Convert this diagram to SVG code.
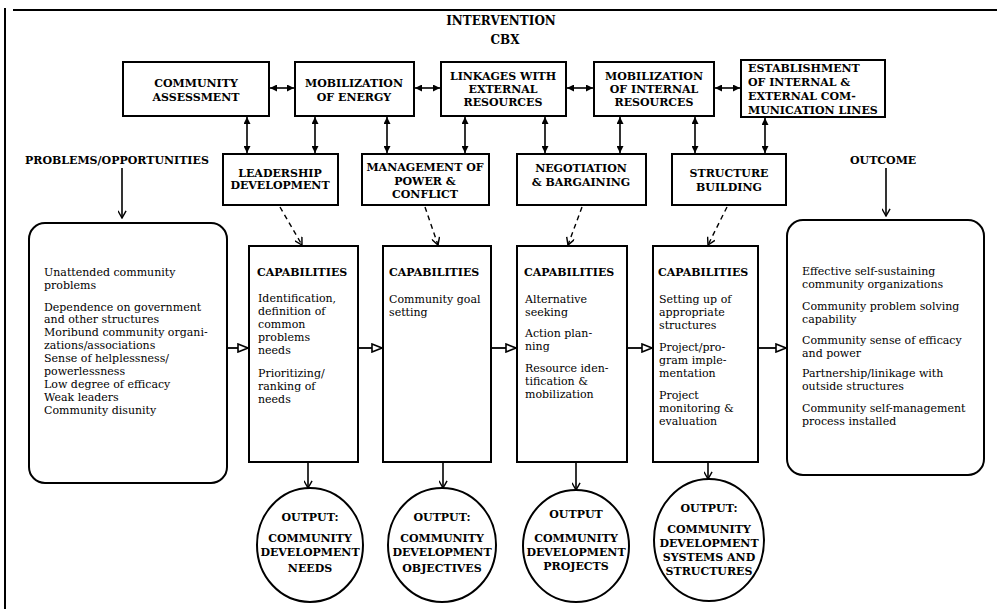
<svg xmlns="http://www.w3.org/2000/svg" width="997" height="609" viewBox="0 0 997 609">
<style>
.box{fill:#fff;stroke:#000;stroke-width:2}
.h{font-family:"DejaVu Serif","Liberation Serif",serif;font-weight:bold;font-size:11px;text-anchor:middle;fill:#000}
.hl{font-family:"DejaVu Serif","Liberation Serif",serif;font-weight:bold;font-size:11px;fill:#000}
.t{font-family:"DejaVu Serif","Liberation Serif",serif;font-size:11px;fill:#000}
.c{font-family:"DejaVu Serif","Liberation Serif",serif;font-weight:bold;font-size:11px;text-anchor:middle;fill:#000}
.dbl{fill:none;stroke:#000;stroke-width:1.6;marker-start:url(#fa);marker-end:url(#fa)}
.dn{fill:none;stroke:#000;stroke-width:1.6;marker-end:url(#vee)}
.ds{fill:none;stroke:#000;stroke-width:1.4;stroke-dasharray:5 4;marker-end:url(#vee)}
.hz{fill:none;stroke:#000;stroke-width:1.8;marker-end:url(#tri)}
</style>
<defs>
<marker id="fa" viewBox="0 0 8 8" refX="8" refY="4" markerWidth="7" markerHeight="7" markerUnits="userSpaceOnUse" orient="auto-start-reverse"><path d="M0,0 L8,4 L0,8 z" fill="#000"/></marker>
<marker id="vee" viewBox="0 0 10 10" refX="9" refY="5" markerWidth="9" markerHeight="9" markerUnits="userSpaceOnUse" orient="auto"><path d="M1,0.5 L9,5 L1,9.5" fill="none" stroke="#000" stroke-width="1.6"/></marker>
<marker id="tri" viewBox="0 0 12 10" refX="11" refY="5" markerWidth="12" markerHeight="10" markerUnits="userSpaceOnUse" orient="auto"><path d="M1,1 L11,5 L1,9 z" fill="#fff" stroke="#000" stroke-width="1.6"/></marker>
</defs>
<rect width="997" height="609" fill="#fff"/>
<g id="frame" fill="none" stroke="#000" stroke-width="2">
<line x1="13" y1="10" x2="997" y2="10"/>
<line x1="5" y1="8" x2="5" y2="609"/>
</g>
<g id="title">
<text class="h" x="501" y="25" style="font-size:12px">INTERVENTION</text>
<text class="h" x="505" y="44" style="font-size:12px">CBX</text>
</g>
<g id="community-assessment"><rect class="box" x="123" y="62" width="146" height="54"/><text class="h" x="196" y="87">COMMUNITY</text><text class="h" x="196" y="101">ASSESSMENT</text></g>
<g id="mobilization-energy"><rect class="box" x="295" y="62" width="119" height="54"/><text class="h" x="354" y="87">MOBILIZATION</text><text class="h" x="354" y="101">OF ENERGY</text></g>
<g id="linkages"><rect class="box" x="441" y="62" width="125" height="54"/><text class="h" x="503" y="80">LINKAGES WITH</text><text class="h" x="503" y="93">EXTERNAL</text><text class="h" x="503" y="106">RESOURCES</text></g>
<g id="mobilization-internal"><rect class="box" x="594" y="62" width="120" height="54"/><text class="h" x="654" y="80">MOBILIZATION</text><text class="h" x="654" y="93">OF INTERNAL</text><text class="h" x="654" y="106">RESOURCES</text></g>
<g id="establishment"><rect class="box" x="741" y="60" width="144" height="57"/><text class="hl" x="748" y="72">ESTABLISHMENT</text><text class="hl" x="748" y="86">OF INTERNAL &amp;</text><text class="hl" x="748" y="100">EXTERNAL COM-</text><text class="hl" x="748" y="114">MUNICATION LINES</text></g>
<g id="leadership"><rect class="box" x="223" y="154" width="115" height="51"/><text class="h" x="280" y="177">LEADERSHIP</text><text class="h" x="280" y="189">DEVELOPMENT</text></g>
<g id="management"><rect class="box" x="362" y="154" width="127" height="51"/><text class="h" x="425" y="171">MANAGEMENT OF</text><text class="h" x="425" y="185">POWER &amp;</text><text class="h" x="425" y="198">CONFLICT</text></g>
<g id="negotiation"><rect class="box" x="517" y="154" width="129" height="51"/><text class="h" x="581" y="172">NEGOTIATION</text><text class="h" x="581" y="186">&amp; BARGAINING</text></g>
<g id="structure"><rect class="box" x="672" y="154" width="114" height="51"/><text class="h" x="729" y="177">STRUCTURE</text><text class="h" x="729" y="191">BUILDING</text></g>
<g id="labels">
<text class="hl" x="25" y="164">PROBLEMS/OPPORTUNITIES</text>
<text class="hl" x="850" y="164">OUTCOME</text>
</g>
<g id="problems"><rect class="box" x="29" y="223" width="198" height="260" rx="16"/>
<text class="t" x="44" y="276">Unattended community</text><text class="t" x="44" y="289">problems</text>
<text class="t" x="44" y="311">Dependence on government</text><text class="t" x="44" y="323">and other structures</text>
<text class="t" x="44" y="336">Moribund community organi-</text><text class="t" x="44" y="349">zations/associations</text>
<text class="t" x="44" y="362">Sense of helplessness/</text><text class="t" x="44" y="375">powerlessness</text>
<text class="t" x="44" y="388">Low degree of efficacy</text><text class="t" x="44" y="401">Weak leaders</text>
<text class="t" x="44" y="414">Community disunity</text></g>
<g id="cap1"><rect class="box" x="249" y="246" width="109" height="216"/>
<text class="hl" x="257" y="276">CAPABILITIES</text>
<text class="t" x="258" y="302">Identification,</text><text class="t" x="258" y="315">definition of</text><text class="t" x="258" y="328">common</text><text class="t" x="258" y="341">problems</text><text class="t" x="258" y="354">needs</text>
<text class="t" x="258" y="377">Prioritizing/</text><text class="t" x="258" y="390">ranking of</text><text class="t" x="258" y="403">needs</text></g>
<g id="cap2"><rect class="box" x="383" y="246" width="108" height="216"/>
<text class="hl" x="389" y="276">CAPABILITIES</text>
<text class="t" x="389" y="303">Community goal</text><text class="t" x="389" y="316">setting</text></g>
<g id="cap3"><rect class="box" x="517" y="246" width="110" height="216"/>
<text class="hl" x="524" y="276">CAPABILITIES</text>
<text class="t" x="525" y="303">Alternative</text><text class="t" x="525" y="316">seeking</text>
<text class="t" x="525" y="337">Action plan-</text><text class="t" x="525" y="350">ning</text>
<text class="t" x="525" y="372">Resource iden-</text><text class="t" x="525" y="385">tification &amp;</text><text class="t" x="525" y="398">mobilization</text></g>
<g id="cap4"><rect class="box" x="653" y="246" width="105" height="216"/>
<text class="hl" x="658" y="276">CAPABILITIES</text>
<text class="t" x="659" y="303">Setting up of</text><text class="t" x="659" y="316">appropriate</text><text class="t" x="659" y="329">structures</text>
<text class="t" x="659" y="351">Project/pro-</text><text class="t" x="659" y="364">gram imple-</text><text class="t" x="659" y="377">mentation</text>
<text class="t" x="659" y="399">Project</text><text class="t" x="659" y="412">monitoring  &amp;</text><text class="t" x="659" y="425">evaluation</text></g>
<g id="outcome"><rect class="box" x="787" y="220" width="197" height="255" rx="16"/>
<text class="t" x="802" y="275">Effective self-sustaining</text><text class="t" x="802" y="288">community organizations</text>
<text class="t" x="802" y="310">Community problem solving</text><text class="t" x="802" y="323">capability</text>
<text class="t" x="802" y="344">Community sense of efficacy</text><text class="t" x="802" y="357">and power</text>
<text class="t" x="802" y="377">Partnership/linikage with</text><text class="t" x="802" y="390">outside structures</text>
<text class="t" x="802" y="412">Community self-management</text><text class="t" x="802" y="425">process installed</text></g>
<g id="out1"><ellipse class="box" cx="310" cy="545" rx="53" ry="57"/><text class="c" x="310" y="521">OUTPUT:</text><text class="c" x="310" y="542">COMMUNITY</text><text class="c" x="310" y="556">DEVELOPMENT</text><text class="c" x="310" y="572">NEEDS</text></g>
<g id="out2"><ellipse class="box" cx="442" cy="545" rx="54" ry="57"/><text class="c" x="442" y="521">OUTPUT:</text><text class="c" x="442" y="542">COMMUNITY</text><text class="c" x="442" y="556">DEVELOPMENT</text><text class="c" x="442" y="572">OBJECTIVES</text></g>
<g id="out3"><ellipse class="box" cx="576" cy="546" rx="53" ry="56"/><text class="c" x="576" y="518">OUTPUT</text><text class="c" x="576" y="542">COMMUNITY</text><text class="c" x="576" y="556">DEVELOPMENT</text><text class="c" x="576" y="570">PROJECTS</text></g>
<g id="out4"><ellipse class="box" cx="709" cy="540" rx="55" ry="61"/><text class="c" x="709" y="512">OUTPUT:</text><text class="c" x="709" y="533">COMMUNITY</text><text class="c" x="709" y="547">DEVELOPMENT</text><text class="c" x="709" y="561">SYSTEMS AND</text><text class="c" x="709" y="575">STRUCTURES</text></g>
<g id="connectors">
<line class="dbl" x1="270" y1="88" x2="294" y2="88"/>
<line class="dbl" x1="415" y1="88" x2="440" y2="88"/>
<line class="dbl" x1="567" y1="88" x2="593" y2="88"/>
<line class="dbl" x1="715" y1="88" x2="740" y2="88"/>
<line class="dbl" x1="247" y1="117" x2="247" y2="153"/>
<line class="dbl" x1="315" y1="117" x2="315" y2="153"/>
<line class="dbl" x1="387" y1="117" x2="387" y2="153"/>
<line class="dbl" x1="465" y1="117" x2="465" y2="153"/>
<line class="dbl" x1="545" y1="117" x2="545" y2="153"/>
<line class="dbl" x1="620" y1="117" x2="620" y2="153"/>
<line class="dbl" x1="695" y1="117" x2="695" y2="153"/>
<line class="dbl" x1="765" y1="118" x2="765" y2="153"/>
<line class="dn" x1="122" y1="168" x2="122" y2="218"/>
<line class="dn" x1="886" y1="168" x2="886" y2="216"/>
<line class="ds" x1="280" y1="207" x2="302" y2="245"/>
<line class="ds" x1="425" y1="207" x2="438" y2="245"/>
<line class="ds" x1="582" y1="207" x2="568" y2="245"/>
<line class="ds" x1="727" y1="207" x2="708" y2="245"/>
<line class="hz" x1="227" y1="348" x2="248" y2="348"/>
<line class="hz" x1="358" y1="348" x2="382" y2="348"/>
<line class="hz" x1="491" y1="348" x2="516" y2="348"/>
<line class="hz" x1="627" y1="348" x2="652" y2="348"/>
<line class="hz" x1="758" y1="348" x2="786" y2="348"/>
<line class="dn" x1="308" y1="462" x2="308" y2="488"/>
<line class="dn" x1="443" y1="462" x2="443" y2="488"/>
<line class="dn" x1="576" y1="462" x2="576" y2="490"/>
<line class="dn" x1="708" y1="462" x2="708" y2="479"/>
</g>
</svg>
